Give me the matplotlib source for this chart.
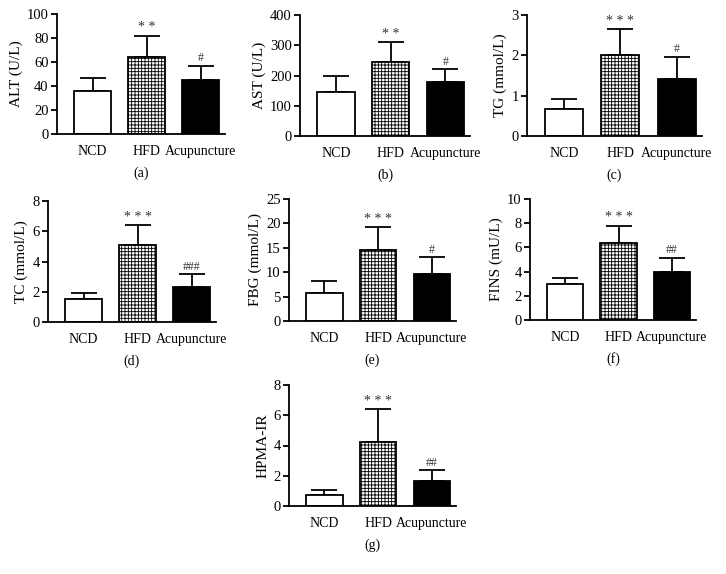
import numpy as np
import matplotlib.pyplot as plt

plt.rcParams['font.family'] = ['Liberation Serif', 'DejaVu Serif']
plt.rcParams['hatch.linewidth'] = 0.6

groups = ["NCD", "HFD", "Acupuncture"]

# mean values and upper error ends
alt_mean = [36, 64, 45]
alt_err = [11, 18, 12]
ast_mean = [145, 243, 177]
ast_err = [55, 67, 44]
tg_mean = [0.68, 2.02, 1.41]
tg_err = [0.23, 0.63, 0.56]
tc_mean = [1.5, 5.1, 2.3]
tc_err = [0.4, 1.3, 0.85]
fbg_mean = [5.8, 14.6, 9.6]
fbg_err = [2.4, 4.6, 3.5]
fins_mean = [3.0, 6.4, 4.0]
fins_err = [0.5, 1.4, 1.15]
ir_mean = [0.75, 4.25, 1.65]
ir_err = [0.3, 2.15, 0.7]

panels = [
    ("ALT (U/L)", alt_mean, alt_err, [0, 20, 40, 60, 80, 100], ["", "**", "#"], "(a)"),
    ("AST (U/L)", ast_mean, ast_err, [0, 100, 200, 300, 400], ["", "**", "#"], "(b)"),
    ("TG (mmol/L)", tg_mean, tg_err, [0, 1, 2, 3], ["", "***", "#"], "(c)"),
    ("TC (mmol/L)", tc_mean, tc_err, [0, 2, 4, 6, 8], ["", "***", "###"], "(d)"),
    ("FBG (mmol/L)", fbg_mean, fbg_err, [0, 5, 10, 15, 20, 25], ["", "***", "#"], "(e)"),
    ("FINS (mU/L)", fins_mean, fins_err, [0, 2, 4, 6, 8, 10], ["", "***", "##"], "(f)"),
    ("HPMA-IR", ir_mean, ir_err, [0, 2, 4, 6, 8], ["", "***", "##"], "(g)"),
]

# axes boxes in pixels: left, top, right, bottom
boxes = [
    (57, 14, 225, 134),
    (300, 15, 470, 136),
    (527, 15, 702, 136),
    (48, 201, 216, 322),
    (289, 199, 456, 321),
    (530, 199, 696, 320),
    (289, 385, 456, 506),
]
W, H = 726, 574

fig = plt.figure(figsize=(W / 100, H / 100), dpi=100)
x = np.arange(3)
for (ylab, mean, err, ticks, marks, tag), (l, t, r, b) in zip(panels, boxes):
    ax = fig.add_axes([l / W, 1 - b / H, (r - l) / W, (b - t) / H])
    bars = ax.bar(x, mean, width=0.68, color=["white", "white", "black"],
                  edgecolor="black", linewidth=1.3, zorder=2)
    bars[1].set_hatch("+++++")
    ax.errorbar(x, mean, yerr=[np.zeros(3), err], fmt="none", ecolor="black",
                elinewidth=1.3, capsize=9.5, capthick=1.3, zorder=1)
    top = ticks[-1]
    for i in range(3):
        if marks[i]:
            s = marks[i] if marks[i].startswith("#") else " ".join(marks[i])
            ax.text(x[i], mean[i] + err[i] + top * 0.01, s, ha="center",
                    va="bottom", fontsize=10 if marks[i][0] == "*" else 8.5,
                    color="#333333")
    ax.set_xlim(-0.657, 2.45)
    ax.set_ylim(0, top)
    ax.set_yticks(ticks)
    ax.set_xticks(x)
    ax.set_xticklabels(groups)
    ax.set_ylabel(ylab, fontsize=11, labelpad=3)
    ax.spines["top"].set_visible(False)
    ax.spines["right"].set_visible(False)
    ax.spines["left"].set_linewidth(1.3)
    ax.spines["bottom"].set_linewidth(1.3)
    ax.tick_params(axis="y", labelsize=10.5, width=1.3, length=4, pad=2)
    ax.tick_params(axis="x", labelsize=10, length=0, pad=8)
    fig.text((l + r) / 2 / W, 1 - (b + 39) / H, tag, ha="center", va="center", fontsize=10)

fig.savefig("out.png", dpi=100)
